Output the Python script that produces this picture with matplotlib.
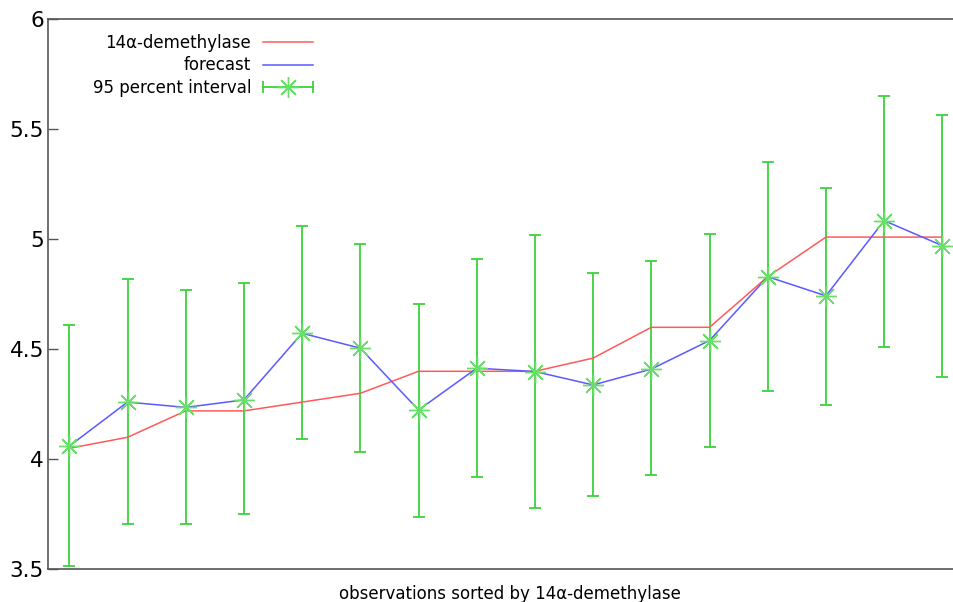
import numpy as np
import matplotlib
matplotlib.use("Agg")
import matplotlib.pyplot as plt
from matplotlib.lines import Line2D
from matplotlib.legend_handler import HandlerLine2D

# observations sorted by actual value
actual = [4.05, 4.10, 4.22, 4.22, 4.26, 4.30, 4.40, 4.40, 4.40, 4.46, 4.60, 4.60, 4.83, 5.01, 5.01, 5.01]
forecast = [4.06, 4.26, 4.236, 4.27, 4.573, 4.505, 4.224, 4.414, 4.399, 4.338, 4.41, 4.54, 4.83, 4.743, 5.085, 4.971]
lower = [3.515, 3.705, 3.705, 3.75, 4.092, 4.031, 3.74, 3.92, 3.78, 3.835, 3.93, 4.055, 4.31, 4.248, 4.512, 4.374]
upper = [4.61, 4.82, 4.77, 4.80, 5.06, 4.98, 4.705, 4.91, 5.02, 4.845, 4.90, 5.025, 5.35, 5.232, 5.653, 5.566]
yticks = [3.5, 4, 4.5, 5, 5.5, 6]

plt.rcParams['font.family'] = ['DejaVu Sans']
red = '#ff5a5a'
blue = '#5a5aff'
green = '#3dd23d'
star_green = '#6ade6a'

fig = plt.figure(figsize=(9.54, 6.02), dpi=100)
# plot box runs a little past the right edge of the picture
ax = fig.add_axes([48 / 954, 32.7 / 602, 924 / 954, 550 / 602])

x = np.arange(len(actual))
fc = np.array(forecast)
err = [fc - np.array(lower), np.array(upper) - fc]

ax.errorbar(x, fc, yerr=err, fmt='none', ecolor=green, elinewidth=1.3,
            capsize=4.5, capthick=1.3, zorder=2)
ax.plot(x, actual, color=red, lw=1.1, zorder=3)
ax.plot(x, forecast, color=blue, lw=1.1, zorder=4)
ax.plot(x, forecast, ls='none', marker=(8, 2, 0), ms=15, mew=1.0,
        color=star_green, zorder=5)

ax.set_xlim(-0.366, 15.51)
ax.set_ylim(3.5, 6)
ax.set_yticks(yticks)
ax.set_yticklabels(['3.5', '4', '4.5', '5', '5.5', '6'])
ax.set_xticks([])
ax.tick_params(axis='y', direction='in', length=7, width=1, color='#555555',
               labelsize=15.5, pad=3)
for s in ['left', 'top', 'bottom']:
    ax.spines[s].set_color('#555555')
    ax.spines[s].set_linewidth(1.2)
ax.spines['right'].set_visible(False)

ax.set_xlabel('observations sorted by 14α-demethylase', fontsize=12, labelpad=11)

# legend handles in gnuplot style
h_act = Line2D([], [], color=red, lw=1.1)
h_fc = Line2D([], [], color=blue, lw=1.1)
h_bar = Line2D([], [], color=green, lw=1.3, marker='|', ms=9, mew=1.3)
h_star = Line2D([], [], ls='none', marker=(8, 2, 0), ms=15, mew=1.0, color=star_green)
ax.legend([h_act, h_fc, (h_bar, h_star)],
          ['14α-demethylase', 'forecast', '95 percent interval'],
          handler_map={h_bar: HandlerLine2D(numpoints=2, marker_pad=0)},
          loc='upper left', bbox_to_anchor=(0.041, 0.985), markerfirst=False,
          frameon=False, fontsize=12, handlelength=3.0, handletextpad=0.7,
          labelspacing=0.25, borderaxespad=0)

fig.savefig('out.png', dpi=100)
